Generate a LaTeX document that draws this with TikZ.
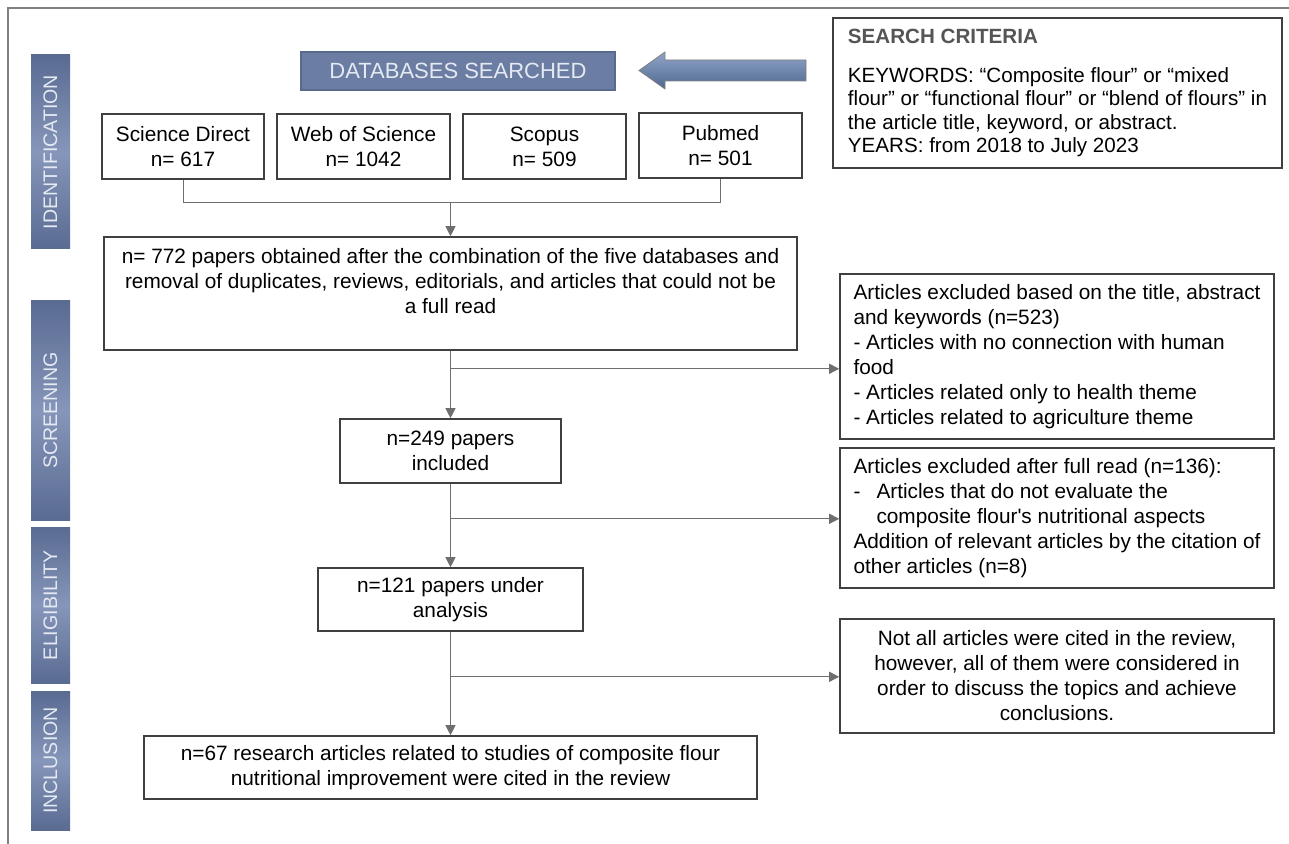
\documentclass[tikz,border=0pt]{standalone}
\usepackage{fontspec}
\setmainfont{Liberation Sans}
\usetikzlibrary{positioning,arrows.meta,calc}
\definecolor{framegray}{HTML}{808080}
\definecolor{boxline}{HTML}{404040}
\definecolor{linkgray}{HTML}{6E6E6E}
\definecolor{baredge}{HTML}{5A6B92}
\definecolor{barmid}{HTML}{8696BA}
\definecolor{barink}{HTML}{E4E9F2}
\definecolor{dbfill}{HTML}{6B7DA3}
\definecolor{dbedge}{HTML}{586A90}
\definecolor{arrowtop}{HTML}{90A4C6}
\definecolor{arrowbot}{HTML}{4F6891}
\definecolor{critink}{HTML}{555555}

\begin{document}
\begin{tikzpicture}[x=0.5pt,y=-0.5pt,
  every node/.style={font=\fontsize{10.4}{12.5}\selectfont,text=black},
  flowbox/.style={draw=boxline,line width=0.8pt,fill=white,align=center,inner sep=0pt},
  stagebar/.style={top color=baredge,bottom color=baredge,middle color=barmid,rotate=90,
    text=barink,font=\fontsize{9.8}{11}\selectfont,inner sep=0pt,minimum height=19.5pt},
  link/.style={draw=linkgray,line width=0.5pt},
  arrowlink/.style={link,-{Triangle[length=5pt,width=5pt]}}]
  \useasboundingbox (0,0) rectangle (1289,844);
  % frame
  \draw[framegray,line width=0.75pt] (8,844) -- (8,8) -- (1289,8);
  % stages
  \node[stagebar,minimum width=97pt] (stageid) at (50.5,152) {IDENTIFICATION};
  \node[stagebar,minimum width=109.5pt] (stagescr) at (50.5,410.5) {SCREENING};
  \node[stagebar,minimum width=78pt] (stageelig) at (50.5,605) {ELIGIBILITY};
  \node[stagebar,minimum width=69.5pt] (stageincl) at (50.5,760.5) {INCLUSION};
  % databases header and criteria
  \node[fill=dbfill,draw=dbedge,line width=0.6pt,minimum width=157pt,minimum height=19pt,
    text=barink,font=\fontsize{11}{13}\selectfont] (dbs) at (458,71) {DATABASES SEARCHED};
  \shade[top color=arrowtop,bottom color=arrowbot,draw=framegray,line width=0.4pt]
    (639,70.5) -- (665,52) -- (665,60) -- (806,60) -- (806,81) -- (665,81) -- (665,89) -- cycle;
  \node[flowbox,draw=boxline,line width=1pt,align=left,minimum width=224.5pt,minimum height=75pt,
    font=\fontsize{10.3}{11.75}\selectfont] (crit) at (1057.5,93)
    {{\color{critink}\bfseries SEARCH CRITERIA}\\[7.75pt]
     KEYWORDS: “Composite flour” or “mixed\\
     flour” or “functional flour” or “blend of flours” in\\
     the article title, keyword, or abstract.\\
     YEARS: from 2018 to July 2023};
  % databases
  \node[flowbox,minimum width=81pt,minimum height=32.5pt] (sd) at (183,146.5) {Science Direct\\n= 617};
  \node[flowbox,minimum width=86.5pt,minimum height=32.5pt] (wos) at (363.5,146.5) {Web of Science\\n= 1042};
  \node[flowbox,minimum width=81.5pt,minimum height=32.5pt] (scopus) at (544.5,146.5) {Scopus\\n= 509};
  \node[flowbox,minimum width=81.5pt,minimum height=32.5pt] (pubmed) at (720.5,145.5) {Pubmed\\n= 501};
  % main flow
  \node[flowbox,minimum width=346.5pt,minimum height=56.5pt] (merged) at (450.5,293.5)
    {n= 772 papers obtained after the combination of the five databases and\\
     removal of duplicates, reviews, editorials, and articles that could not be\\
     a full read\\ \mbox{}};
  \node[flowbox,minimum width=110.5pt,minimum height=32pt] (screened) at (450.5,451) {n=249 papers\\included};
  \node[flowbox,minimum width=132.5pt,minimum height=31.5pt] (analysed) at (450.5,599.5) {n=121 papers under\\analysis};
  \node[flowbox,minimum width=306.5pt,minimum height=31.5pt] (included) at (450.5,767.5)
    {n=67 research articles related to studies of composite flour\\
     nutritional improvement were cited in the review};
  % side notes
  \node[flowbox,align=left,minimum width=217pt,minimum height=82.5pt] (excl1) at (1057,356.5)
    {Articles excluded based on the title, abstract\\
     and keywords (n=523)\\
     - Articles with no connection with human\\
     food\\
     - Articles related only to health theme\\
     - Articles related to agriculture theme};
  \node[flowbox,align=left,minimum width=217pt,minimum height=70pt] (excl2) at (1057,518)
    {Articles excluded after full read (n=136):\\
     \makebox[11.5pt][l]{-}Articles that do not evaluate the\\
     \hspace*{11.5pt}composite flour\textquotesingle s nutritional aspects\\
     Addition of relevant articles by the citation of\\
     other articles (n=8)};
  \node[flowbox,minimum width=217pt,minimum height=57pt] (note) at (1057,676)
    {Not all articles were cited in the review,\\
     however, all of them were considered in\\
     order to discuss the topics and achieve\\
     conclusions.};
  % connectors
  \coordinate (hub) at ($(merged.north)+(0,-34)$);
  \coordinate (cut1) at ($(merged.south)+(0,18)$);
  \coordinate (cut2) at ($(screened.south)+(0,35)$);
  \coordinate (cut3) at ($(analysed.south)+(0,45)$);
  \draw[link] (sd.south) |- (hub) -| (pubmed.south);
  \draw[arrowlink] (hub) -- (merged.north);
  \draw[arrowlink] (merged.south) -- (screened.north);
  \draw[arrowlink] (screened.south) -- (analysed.north);
  \draw[arrowlink] (analysed.south) -- (included.north);
  \draw[arrowlink] (cut1) -- (cut1 -| excl1.west);
  \draw[arrowlink] (cut2) -- (cut2 -| excl2.west);
  \draw[arrowlink] (cut3) -- (cut3 -| note.west);
\end{tikzpicture}
\end{document}
